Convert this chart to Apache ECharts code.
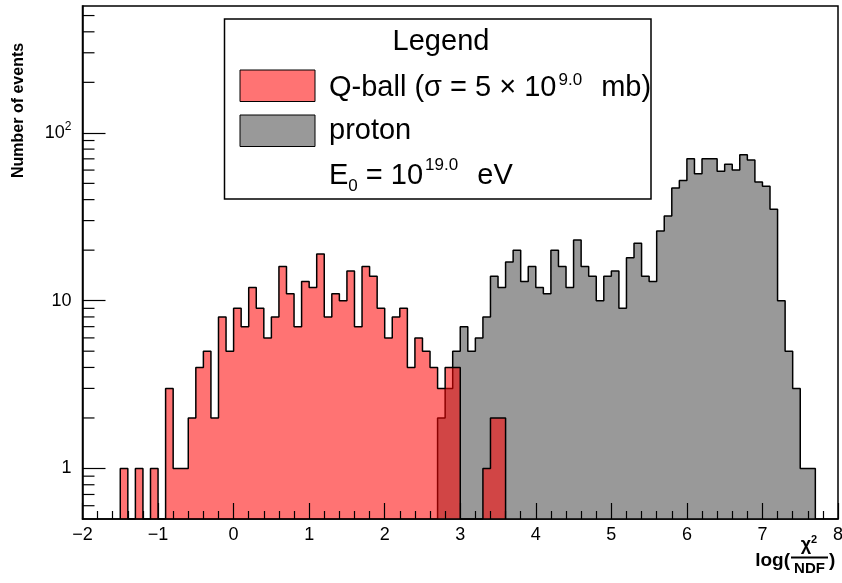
<!DOCTYPE html>
<html><head><meta charset="utf-8">
<script src="https://cdn.jsdelivr.net/npm/echarts@6/dist/echarts.min.js"></script>
<style>html,body{margin:0;padding:0;background:#fff}#c{width:842px;height:583px}</style>
</head><body><div id="c"></div>
<script>
// ---- data ----
const BIN_WIDTH = 0.1;
const qballStart = -1.5;
const qballCounts = [1,0,1,0,1,0,3,1,1,2,4,5,2,8,5,9,7,12,9,6,8,16,11,7,13,12,19,8,11,10,15,7,16,14,9,6,8,9,4,6,5,4,3,4,4,0,0,0,1,2,2];
const protonStart = 2.7;
const protonCounts = [2,3,5,7,5,6,8,14,12,17,20,13,16,12,11,20,16,12,23,16,14,10,14,15,9,18,22,14,13,26,32,47,52,70,57,70,70,59,65,60,74,69,51,48,35,10,5,3,1,1];
const X_MIN = -2, X_MAX = 8;
const Y_MIN = 0.5, Y_MAX = 570;
const yLabelValues = [1, 10, 100];
const yMinorTicks = [0.6,0.7,0.8,0.9,2,3,4,5,6,7,8,9,20,30,40,50,60,70,80,90,200,300,400,500];

const FONT = '"Liberation Sans", Arial, Helvetica, sans-serif';

function stepData(start, counts) {
  const pts = [[start, Y_MIN]];
  counts.forEach((c, i) => {
    pts.push([+(start + i * BIN_WIDTH).toFixed(3), c > 0 ? c : Y_MIN]);
  });
  const xEnd = +(start + counts.length * BIN_WIDTH).toFixed(3);
  const last = counts[counts.length - 1];
  pts.push([xEnd, last > 0 ? last : Y_MIN]);
  pts.push([xEnd, Y_MIN]);
  return pts;
}

const chart = echarts.init(document.getElementById('c'), null, {renderer: 'canvas'});
const GRID = {left: 82.5, right: 4, top: 6, bottom: 64};

const option = {
  animation: false,
  backgroundColor: '#fff',
  grid: Object.assign({show: true, borderColor: '#000', borderWidth: 1.5, backgroundColor: 'transparent', containLabel: false, outerBoundsMode: 'none'}, GRID),
  xAxis: {
    type: 'value', min: X_MIN, max: X_MAX, interval: 1, z: 10,
    axisLine: {show: true, onZero: false, lineStyle: {color: '#000', width: 1.5}},
    axisTick: {show: true, inside: true, length: 16, lineStyle: {color: '#000', width: 1.2}},
    minorTick: {show: true, splitNumber: 5, length: 8, lineStyle: {color: '#000', width: 1.2}},
    splitLine: {show: false},
    axisLabel: {show: true, margin: 7, fontSize: 18, color: '#000', fontFamily: FONT,
      showMinLabel: true, showMaxLabel: true, hideOverlap: false,
      formatter: v => String(v).replace('-', '\u2212')}
  },
  yAxis: {
    type: 'log', logBase: 10, min: Y_MIN, max: Y_MAX, z: 10,
    axisLine: {show: true, onZero: false, lineStyle: {color: '#000', width: 1.5}},
    axisTick: {show: true, inside: true, length: 23, lineStyle: {color: '#000', width: 1.2}},
    minorTick: {show: false},
    splitLine: {show: false},
    axisLabel: {show: true, margin: 11, color: '#000', fontFamily: FONT, fontSize: 18,
      showMinLabel: false, showMaxLabel: false,
      formatter: v => {
        const r = Math.round(v);
        if (Math.abs(v - r) > 1e-6 || yLabelValues.indexOf(r) < 0) return '';
        if (r === 100) return '{b|10}{s|2}';
        return '{b|' + r + '}';
      },
      rich: {
        b: {fontSize: 18, fontFamily: FONT, color: '#000', lineHeight: 24},
        s: {fontSize: 12, fontFamily: FONT, color: '#000', lineHeight: 14, verticalAlign: 'top'}
      }
    }
  },
  series: [
    {
      name: 'proton', type: 'line', step: 'end', data: stepData(protonStart, protonCounts),
      symbol: 'none', showSymbol: false, silent: true, z: 2,
      lineStyle: {color: '#000', width: 1.5},
      areaStyle: {color: '#999999', opacity: 1, origin: 'start'}
    },
    {
      name: 'Q-ball', type: 'line', step: 'end', data: stepData(qballStart, qballCounts),
      symbol: 'none', showSymbol: false, silent: true, z: 3,
      lineStyle: {color: '#000', width: 1.5},
      areaStyle: {color: 'rgba(255,0,0,0.55)', opacity: 1, origin: 'start'}
    },
    {
      name: 'yMinor', type: 'custom', silent: true, z: 11,
      data: yMinorTicks.map(v => [X_MIN, v]),
      renderItem: (params, api) => {
        const p = api.coord([X_MIN, api.value(1)]);
        return {type: 'line', shape: {x1: p[0], y1: p[1], x2: p[0] + 12, y2: p[1]},
          style: {stroke: '#000', lineWidth: 1.2}};
      }
    }
  ],
  graphic: [
    // y axis title
    {type: 'text', x: 19, y: 178, rotation: Math.PI / 2, z: 20,
      style: {text: 'Number of events', font: 'bold 16px ' + FONT, fill: '#000', align: 'left', verticalAlign: 'middle'}},
    // x axis title: log(chi2/NDF)
    {type: 'text', x: 790, y: 561, z: 20,
      style: {text: 'log(', font: 'bold 19px ' + FONT, fill: '#000', align: 'right', verticalAlign: 'middle'}},
    {type: 'text', x: 809, y: 545, z: 20,
      style: {text: '{c|\u03C7}{s|2}', align: 'center', verticalAlign: 'middle',
        rich: {c: {font: 'bold 18px ' + FONT, fill: '#000', lineHeight: 22},
               s: {font: 'bold 11px ' + FONT, fill: '#000', lineHeight: 13, verticalAlign: 'top'}}}},
    {type: 'line', z: 20, shape: {x1: 791, y1: 557.5, x2: 828, y2: 557.5}, style: {stroke: '#000', lineWidth: 1.8}},
    {type: 'text', x: 809.5, y: 569, z: 20,
      style: {text: 'NDF', font: 'bold 15px ' + FONT, fill: '#000', align: 'center', verticalAlign: 'middle'}},
    {type: 'text', x: 829, y: 561, z: 20,
      style: {text: ')', font: 'bold 19px ' + FONT, fill: '#000', align: 'left', verticalAlign: 'middle'}},
    // legend
    {type: 'rect', z: 30, shape: {x: 224.5, y: 19, width: 426.5, height: 180},
      style: {fill: '#fff', stroke: '#000', lineWidth: 1.5}},
    {type: 'text', x: 441, y: 42, z: 31,
      style: {text: 'Legend', font: '29px ' + FONT, fill: '#000', align: 'center', verticalAlign: 'middle'}},
    {type: 'rect', z: 31, shape: {x: 240, y: 70, width: 75, height: 31.5},
      style: {fill: 'rgba(255,0,0,0.55)', stroke: '#000', lineWidth: 1}},
    {type: 'rect', z: 31, shape: {x: 240, y: 115, width: 75, height: 31.5},
      style: {fill: '#999999', stroke: '#000', lineWidth: 1}},
    {type: 'text', x: 329, y: 88, z: 31,
      style: {text: '{m|Q-ball (\u03C3 = 5 \u00D7 10}{s|9.0}{m|  mb)}', align: 'left', verticalAlign: 'middle',
        rich: {m: {font: '29px ' + FONT, fill: '#000', lineHeight: 32},
               s: {font: '17px ' + FONT, fill: '#000', lineHeight: 18, verticalAlign: 'top', padding: [0, 3, 0, 2]}}}},
    {type: 'text', x: 329, y: 131, z: 31,
      style: {text: 'proton', font: '29px ' + FONT, fill: '#000', align: 'left', verticalAlign: 'middle'}},
    {type: 'text', x: 329, y: 176, z: 31,
      style: {text: '{m|E}{sub|0}{m| = 10}{s|19.0}{m|  eV}', align: 'left', verticalAlign: 'middle',
        rich: {m: {font: '29px ' + FONT, fill: '#000', lineHeight: 38},
               s: {font: '17px ' + FONT, fill: '#000', lineHeight: 24, verticalAlign: 'top', padding: [0, 3, 0, 2]},
               sub: {font: '17px ' + FONT, fill: '#000', lineHeight: 17, verticalAlign: 'bottom'}}}}
  ]
};
chart.setOption(option);
</script>
</body></html>
